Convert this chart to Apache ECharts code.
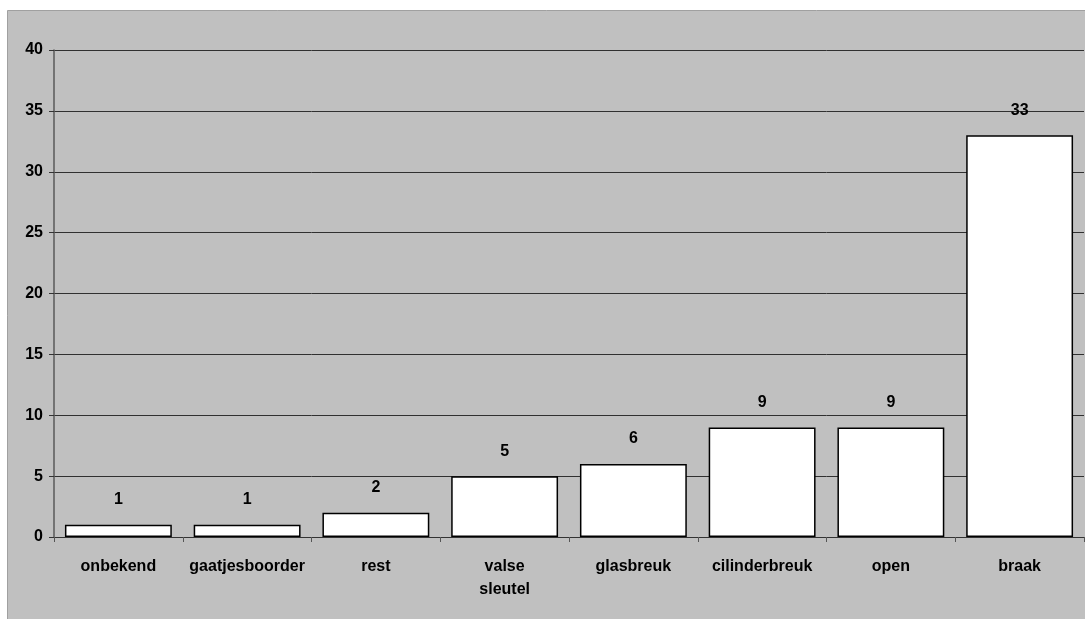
<!DOCTYPE html>
<html>
<head>
<meta charset="utf-8">
<script src="https://cdn.jsdelivr.net/npm/echarts@6/dist/echarts.min.js"></script>
<style>html,body{margin:0;padding:0;background:#fff}#c{width:1085px;height:619px}</style>
</head>
<body>
<div id="c"></div>
<script>
var categories = ['onbekend', 'gaatjesboorder', 'rest', 'valse\nsleutel', 'glasbreuk', 'cilinderbreuk', 'open', 'braak'];
var values = [1, 1, 2, 5, 6, 9, 9, 33];
var FONT = "'Liberation Sans', Arial, sans-serif";
var chart = echarts.init(document.getElementById('c'), null, {renderer: 'canvas'});
chart.setOption({
  backgroundColor: '#ffffff',
  animation: false,
  graphic: [{
    type: 'rect', left: 7, top: 10, z: -10,
    shape: {width: 1090, height: 620},
    style: {fill: '#C0C0C0', stroke: '#A0A0A0', lineWidth: 1}
  }],
  grid: {left: 54, top: 50, right: 1, bottom: 82, containLabel: false},
  xAxis: {
    type: 'category',
    data: categories,
    axisLine: {show: true, lineStyle: {color: '#333', width: 1}},
    axisTick: {show: true, length: 5, lineStyle: {color: '#555'}},
    axisLabel: {margin: 18, color: '#000', fontFamily: FONT, fontWeight: 'bold', fontSize: 16, lineHeight: 23, interval: 0}
  },
  yAxis: {
    type: 'value', min: 0, max: 40, interval: 5,
    axisLine: {show: true, lineStyle: {color: '#5a5a5a', width: 1.5}},
    axisTick: {show: true, length: 5, lineStyle: {color: '#333'}},
    splitLine: {show: true, lineStyle: {color: '#303030', width: 1}},
    axisLabel: {margin: 11, color: '#000', fontFamily: FONT, fontWeight: 'bold', fontSize: 16}
  },
  series: [{
    type: 'bar',
    data: values,
    barCategoryGap: '17%',
    itemStyle: {color: '#ffffff', borderColor: '#000', borderWidth: 1.5},
    label: {show: true, position: 'top', distance: 17, color: '#000', fontFamily: FONT, fontWeight: 'bold', fontSize: 16}
  }]
});
</script>
</body>
</html>
